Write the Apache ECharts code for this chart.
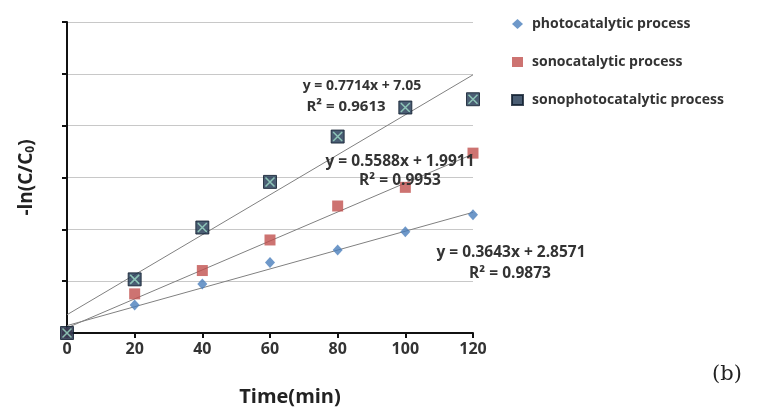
<!DOCTYPE html>
<html>
<head>
    <meta charset="utf-8">
    <title>ECharts</title>
    <script src="https://cdn.jsdelivr.net/npm/echarts@6.0.0/dist/echarts.min.js"></script>
</head>
<body style="margin:0;background:#fff;">
    <div id="chart" style="width: 764px; height: 409px;"></div>
    <script>
        // time points (min)
        var times = [0, 20, 40, 60, 80, 100, 120];
        var xTicks = [0, 20, 40, 60, 80, 100, 120];
        // -ln(C/C0)
        var photo = [0, 10.8, 18.9, 27.2, 32.0, 39.1, 45.6];
        var sono = [0, 15.1, 24.1, 35.9, 49.0, 56.2, 69.4];
        var sonophoto = [0, 20.7, 40.7, 58.3, 75.8, 87.0, 90.2];
        // linear fits printed on the chart: [slope, intercept]
        var fitPhoto = [0.3643, 2.8571];
        var fitSono = [0.5588, 1.9911];
        var fitSonophoto = [0.7714, 7.05];

        function pairs(ys) {
            return times.map(function (t, i) { return [t, ys[i]]; });
        }
        function fitLine(f) {
            return [[0, f[1]], [120, f[0] * 120 + f[1]]];
        }
        var trendStyle = { color: '#808080', width: 1 };
        var font = '"Open Sans", sans-serif';

        function eqText(txt, x, y, size) {
            return {
                type: 'text', x: x, y: y, z: 10,
                style: { text: txt, font: 'bold ' + size + 'px ' + font, fill: '#333', align: 'center', verticalAlign: 'middle' }
            };
        }

        var chart = echarts.init(document.getElementById('chart'));
        var option = {
            animation: false,
            textStyle: { fontFamily: font },
            grid: { left: 67, right: 291, top: 22, bottom: 76, outerBoundsMode: 'none', containLabel: false },
            legend: {
                orient: 'vertical',
                left: 506,
                top: 12,
                itemGap: 24,
                itemWidth: 11,
                itemHeight: 10,
                textStyle: { fontFamily: font, fontSize: 14, fontWeight: 'bold', color: '#333', padding: [0, 0, 0, 4] },
                data: ['photocatalytic process', 'sonocatalytic process', 'sonophotocatalytic process']
            },
            xAxis: {
                type: 'value',
                min: 0, max: 120, interval: 20,
                name: 'Time(min)',
                nameLocation: 'middle',
                nameGap: 54,
                nameTextStyle: { fontSize: 20, fontWeight: 'bold', color: '#222', fontFamily: font, padding: [0, 0, 0, 40] },
                axisLine: { lineStyle: { color: '#111', width: 2 } },
                axisTick: { show: true, length: 5, lineStyle: { color: '#111', width: 2 } },
                axisLabel: {
                    fontSize: 16, fontWeight: 'bold', color: '#333', margin: 8,
                    formatter: function (v) { return xTicks.indexOf(v) >= 0 ? String(v) : ''; }
                },
                splitLine: { show: false }
            },
            yAxis: {
                type: 'value',
                min: 0, max: 120, interval: 20,
                name: '{a|-ln(C/C}{s|0}{a|)}',
                nameLocation: 'middle',
                nameGap: 30,
                nameRotate: 90,
                nameTextStyle: {
                    rich: {
                        a: { fontSize: 19, fontWeight: 'bold', color: '#222', fontFamily: font },
                        s: { fontSize: 12, fontWeight: 'bold', color: '#222', fontFamily: font, padding: [9, 0, 0, 0] }
                    }
                },
                axisLine: { show: true, lineStyle: { color: '#111', width: 2 } },
                axisTick: { show: true, length: 5, lineStyle: { color: '#111', width: 2 } },
                axisLabel: { show: false },
                splitLine: { show: true, lineStyle: { color: '#c8c8c8', width: 1 } }
            },
            series: [
                {
                    name: 'fit photo', type: 'line', data: fitLine(fitPhoto),
                    symbol: 'none', lineStyle: trendStyle, z: 1, silent: true
                },
                {
                    name: 'fit sono', type: 'line', data: fitLine(fitSono),
                    symbol: 'none', lineStyle: trendStyle, z: 1, silent: true
                },
                {
                    name: 'fit sonophoto', type: 'line', data: fitLine(fitSonophoto),
                    symbol: 'none', lineStyle: trendStyle, z: 1, silent: true
                },
                {
                    name: 'photocatalytic process', type: 'scatter', data: pairs(photo),
                    symbol: 'diamond', symbolSize: [10, 11],
                    itemStyle: { color: '#4a7ebb' }, z: 3
                },
                {
                    name: 'sonocatalytic process', type: 'scatter', data: pairs(sono),
                    symbol: 'rect', symbolSize: 11,
                    itemStyle: { color: '#c0504d' }, z: 3
                },
                {
                    name: 'sonophotocatalytic process', type: 'scatter', data: pairs(sonophoto),
                    symbol: 'rect', symbolSize: 13,
                    itemStyle: { color: '#1d3550', borderColor: '#0e1c2c', borderWidth: 1 }, z: 3
                },
                {
                    name: 'sonophoto cross', type: 'scatter', data: pairs(sonophoto),
                    symbol: 'path://M0,0L10,10M10,0L0,10', symbolSize: 9,
                    itemStyle: { color: 'none', borderColor: '#9fe0c8', borderWidth: 1.5 }, z: 4, silent: true
                }
            ],
            graphic: [
                eqText('y = 0.7714x + 7.05', 362, 86, 14),
                eqText('R\u00b2 = 0.9613', 346, 107, 15),
                eqText('y = 0.5588x + 1.9911', 400, 162, 15.5),
                eqText('R\u00b2 = 0.9953', 400, 181, 15.5),
                eqText('y = 0.3643x + 2.8571', 511, 253, 15.5),
                eqText('R\u00b2 = 0.9873', 510, 274, 15.5),
                {
                    type: 'text', x: 727, y: 375,
                    style: { text: '(b)', font: '21px "DejaVu Serif", serif', fill: '#222', align: 'center', verticalAlign: 'middle' }
                }
            ]
        };
        chart.setOption(option);
    </script>
</body>
</html>
